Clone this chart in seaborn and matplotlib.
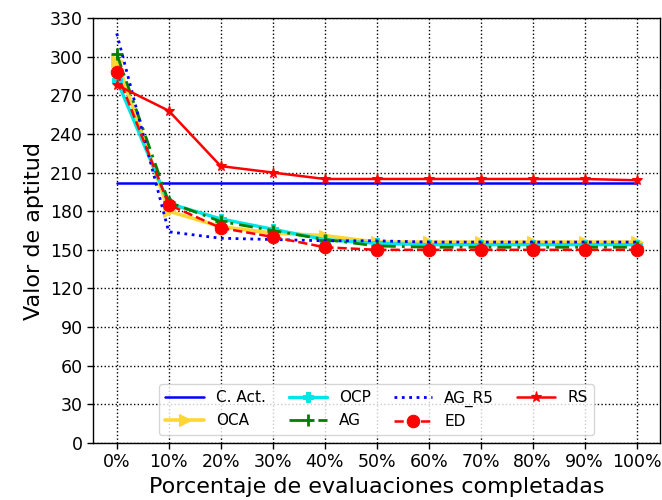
import matplotlib
matplotlib.use("Agg")
import matplotlib.pyplot as plt
import seaborn as sns
import pandas as pd
import numpy as np

x_labels = ["0%", "10%", "20%", "30%", "40%", "50%", "60%", "70%", "80%", "90%", "100%"]
c_act = [202, 202, 202, 202, 202, 202, 202, 202, 202, 202, 202]
oca = [297, 180, 168, 163, 161, 156, 156, 156, 156, 156, 156]
ocp = [282, 186, 174, 166, 158, 155, 154, 154, 154, 154, 154]
ag = [302, 187, 172, 165, 158, 153, 152, 152, 152, 152, 152]
ag_r5 = [318, 164, 159, 158, 157, 157, 156, 156, 156, 156, 156]
ed = [288, 185, 167, 160, 152, 150, 150, 150, 150, 150, 150]
rs = [278, 258, 215, 210, 205, 205, 205, 205, 205, 205, 204]

series = {"C. Act.": c_act, "OCA": oca, "OCP": ocp, "AG": ag, "AG_R5": ag_r5, "ED": ed, "RS": rs}
styles = {
    "C. Act.": dict(color="#0000ff", linestyle="-", marker=None, linewidth=1.8),
    "OCA": dict(color="#ffd633", linestyle="-", marker=">", markersize=8, linewidth=2.6),
    "OCP": dict(color="#00e5e5", linestyle="-", marker="P", markersize=7, linewidth=2.4),
    "AG": dict(color="#008000", linestyle=(0, (5, 2.2, 1, 2.2)), marker="+", markersize=9,
               markeredgewidth=2, linewidth=2.0),
    "AG_R5": dict(color="#0000ff", linestyle=":", marker=None, linewidth=2.0),
    "ED": dict(color="#ff0000", linestyle="--", marker="o", markersize=9, linewidth=1.8),
    "RS": dict(color="#ff0000", linestyle="-", marker="*", markersize=8, linewidth=1.8),
}

rows = []
for name, vals in series.items():
    for i, v in enumerate(vals):
        rows.append({"x": i, "y": v, "serie": name})
df = pd.DataFrame(rows)

sns.set_style("white")
plt.rcParams['font.family'] = ['DejaVu Sans']
plt.rcParams['text.color'] = 'black'
plt.rcParams['axes.labelcolor'] = 'black'
plt.rcParams['xtick.color'] = 'black'
plt.rcParams['ytick.color'] = 'black'
fig, ax = plt.subplots(figsize=(6.62, 5.0), dpi=100)
fig.subplots_adjust(left=0.141, right=0.997, top=0.964, bottom=0.114)

for name in series:
    st = styles[name]
    sub = df[df["serie"] == name]
    kw = dict(st)
    kw["markeredgecolor"] = st["color"]
    sns.lineplot(data=sub, x="x", y="y", ax=ax, label=name, **kw)

ax.set_xlim(-0.45, 10.45)
ax.set_ylim(0, 330)
ax.set_xticks(range(len(x_labels)))
ax.set_xticklabels(x_labels, fontsize=12.5)
ax.set_yticks(np.arange(0, 331, 30))
ax.tick_params(axis="y", labelsize=12.5)
ax.tick_params(axis="both", direction="out", length=4, width=1, color="black", left=True, bottom=True)
ax.grid(True, color="black", linestyle=":", linewidth=1)
for sp in ax.spines.values():
    sp.set_color("black")
    sp.set_linewidth(1)
ax.set_xlabel("Porcentaje de evaluaciones completadas", fontsize=16)
ax.set_ylabel("Valor de aptitud", fontsize=16)

handles, labels = ax.get_legend_handles_labels()
order = ["C. Act.", "OCA", "OCP", "AG", "AG_R5", "ED", "RS"]
hmap = dict(zip(labels, handles))
leg = ax.legend([hmap[o] for o in order], order, ncol=4, loc="lower center",
                bbox_to_anchor=(0.5, 0.0), fontsize=11, frameon=True, fancybox=True,
                columnspacing=1.5, handlelength=2.5)
leg.get_frame().set_edgecolor("#cccccc")

fig.savefig("out.png", dpi=100)
